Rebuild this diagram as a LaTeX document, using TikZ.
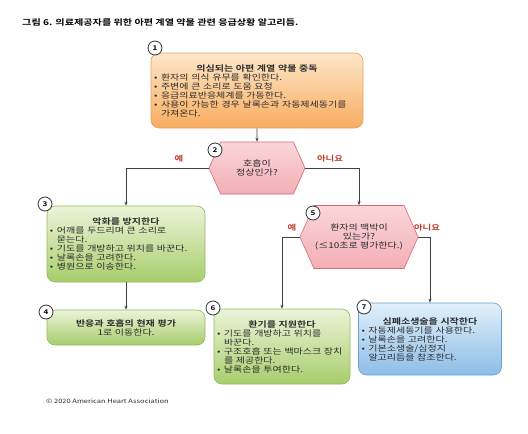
\documentclass[tikz,border=0pt]{standalone}
\usepackage{fontspec}
\setmainfont{Noto Sans CJK KR}[FakeStretch=1.25, BoldFont={Noto Sans CJK KR Bold}]
\usetikzlibrary{shapes.symbols, positioning, arrows.meta}

\definecolor{txtgray}{HTML}{2B2B2B}
\definecolor{ansred}{HTML}{C0392B}
\definecolor{orgtop}{HTML}{FDE7C9}
\definecolor{orgbot}{HTML}{F8AC5F}
\definecolor{orgline}{HTML}{E3A266}
\definecolor{grntop}{HTML}{EBF4D8}
\definecolor{grnbot}{HTML}{A7CD6C}
\definecolor{grnline}{HTML}{94BA5C}
\definecolor{blutop}{HTML}{E2F0FA}
\definecolor{blubot}{HTML}{8CBDE7}
\definecolor{bluline}{HTML}{6A9FD0}
\definecolor{hextop}{HTML}{FAD6D9}
\definecolor{hexbot}{HTML}{F2AEB5}
\definecolor{hexline}{HTML}{D46A74}

% box contents
\newcommand{\boxtitle}[1]{{\centering\bfseries #1\par}}
\newcommand{\bul}[1]{\hangindent=7pt\hangafter=1\noindent\makebox[7pt][l]{•}#1\par}

\tikzset{
    box/.style={rounded corners=8pt, draw, line width=0.6pt, inner xsep=3pt, inner ysep=2pt,
        font=\fontsize{8}{9}\selectfont, text=txtgray},
    obox/.style={box, draw=orgline, top color=orgtop, bottom color=orgbot},
    gbox/.style={box, draw=grnline, top color=grntop, bottom color=grnbot},
    bbox/.style={box, draw=bluline, top color=blutop, bottom color=blubot},
    hexbox/.style={signal, signal to=west and east, signal pointer angle=132, draw=hexline,
        line width=0.6pt, top color=hextop, bottom color=hexbot, align=center, inner sep=1pt,
        font=\fontsize{8}{9}\selectfont, text=txtgray},
    numcirc/.style={circle, draw=black!80, fill=white, line width=0.8pt, minimum size=14pt,
        inner sep=0pt, font=\fontsize{6.5}{7}\selectfont\bfseries},
    flow/.style={-{Stealth[length=4pt, width=3pt]}, line width=0.6pt, draw=black!75},
    answer/.style={text=ansred, font=\fontsize{7.5}{8}\selectfont\bfseries}
}

\begin{document}
\begin{tikzpicture}[x=1pt, y=-1pt]
    \def\colL{126}    % x of left column
    \def\colM{257}    % x of first question
    \def\colR{359}    % x of second question

    \useasboundingbox (0,0) rectangle (528,434);

    \node[anchor=west, inner sep=0pt, font=\fontsize{8.1}{9}\selectfont\bfseries] (title) at (22,22)
        {그림 6. 의료제공자를 위한 아편 계열 약물 관련 응급상황 알고리듬.};

    % boxes
    \node[obox, minimum width=212, minimum height=75, text width=206] (box1) at (\colM,90.5) {%
        \boxtitle{의심되는 아편 계열 약물 중독}%
        \bul{환자의 의식 유무를 확인한다.}%
        \bul{주변에 큰 소리로 도움 요청}%
        \bul{응급의료반응체계를 가동한다.}%
        \bul{사용이 가능한 경우 날록손과 자동제세동기를\newline 가져온다.}};

    \node[hexbox, minimum width=96, minimum height=52] (hex2) at (\colM,168) {호흡이\\정상인가?};

    \node[gbox, minimum width=158, minimum height=76, text width=152] (box3) at (\colL,244) {%
        \boxtitle{악화를 방지한다}%
        \bul{어깨를 두드리며 큰 소리로\newline 묻는다.}%
        \bul{기도를 개방하고 위치를 바꾼다.}%
        \bul{날록손을 고려한다.}%
        \bul{병원으로 이송한다.}};

    \node[gbox, minimum width=158, minimum height=35, text width=152, align=center] (box4) at (\colL,327.5)
        {\textbf{반응과 호흡의 현재 평가}\\1로 이동한다.};

    \node[hexbox, minimum width=112, minimum height=63] (hex5) at (\colR,237)
        {환자의 맥박이\\있는가?\\(≤10초로 평가한다.)};

    \node[gbox, minimum width=136, minimum height=75, text width=130] (box6) at (282,346.5) {%
        \boxtitle{환기를 지원한다}%
        \bul{기도를 개방하고 위치를\newline 바꾼다.}%
        \bul{구조호흡 또는 백마스크 장치\newline 를 제공한다.}%
        \bul{날록손을 투여한다.}};

    \node[bbox, minimum width=143, minimum height=72, text width=137] (box7) at (430,339) {%
        \boxtitle{심폐소생술을 시작한다}%
        \bul{자동제세동기를 사용한다.}%
        \bul{날록손을 고려한다.}%
        \bul{기본소생술/심정지\newline 알고리듬을 참조한다.}};

    % connectors
    \draw[flow] (box1) -- (hex2);
    \draw[flow] (hex2.west) -| (box3.north);
    \draw[flow] (hex2.east) -| (hex5.north);
    \draw[flow] (box3) -- (box4);
    \draw[flow] (hex5.west) -| (box6.north);
    \draw[flow] (hex5.east) -| (box7.north);

    % answers
    \node[answer] (yes2) at (179,159) {예};
    \node[answer] (no2) at (330,159) {아니요};
    \node[answer] (yes5) at (292,228) {예};
    \node[answer] (no5) at (427,228) {아니요};

    % step numbers
    \node[numcirc] (n1) at (155,48) {1};
    \node[numcirc] (n2) at (215,150) {2};
    \node[numcirc] (n3) at (45,204) {3};
    \node[numcirc] (n4) at (46,312) {4};
    \node[numcirc] (n5) at (313,213) {5};
    \node[numcirc] (n6) at (213,308) {6};
    \node[numcirc] (n7) at (364,307) {7};

    \node[anchor=west, inner sep=0pt, font=\fontsize{6}{7}\selectfont, text=txtgray] (copy) at (46,401)
        {© 2020 American Heart Association};
\end{tikzpicture}
\end{document}
